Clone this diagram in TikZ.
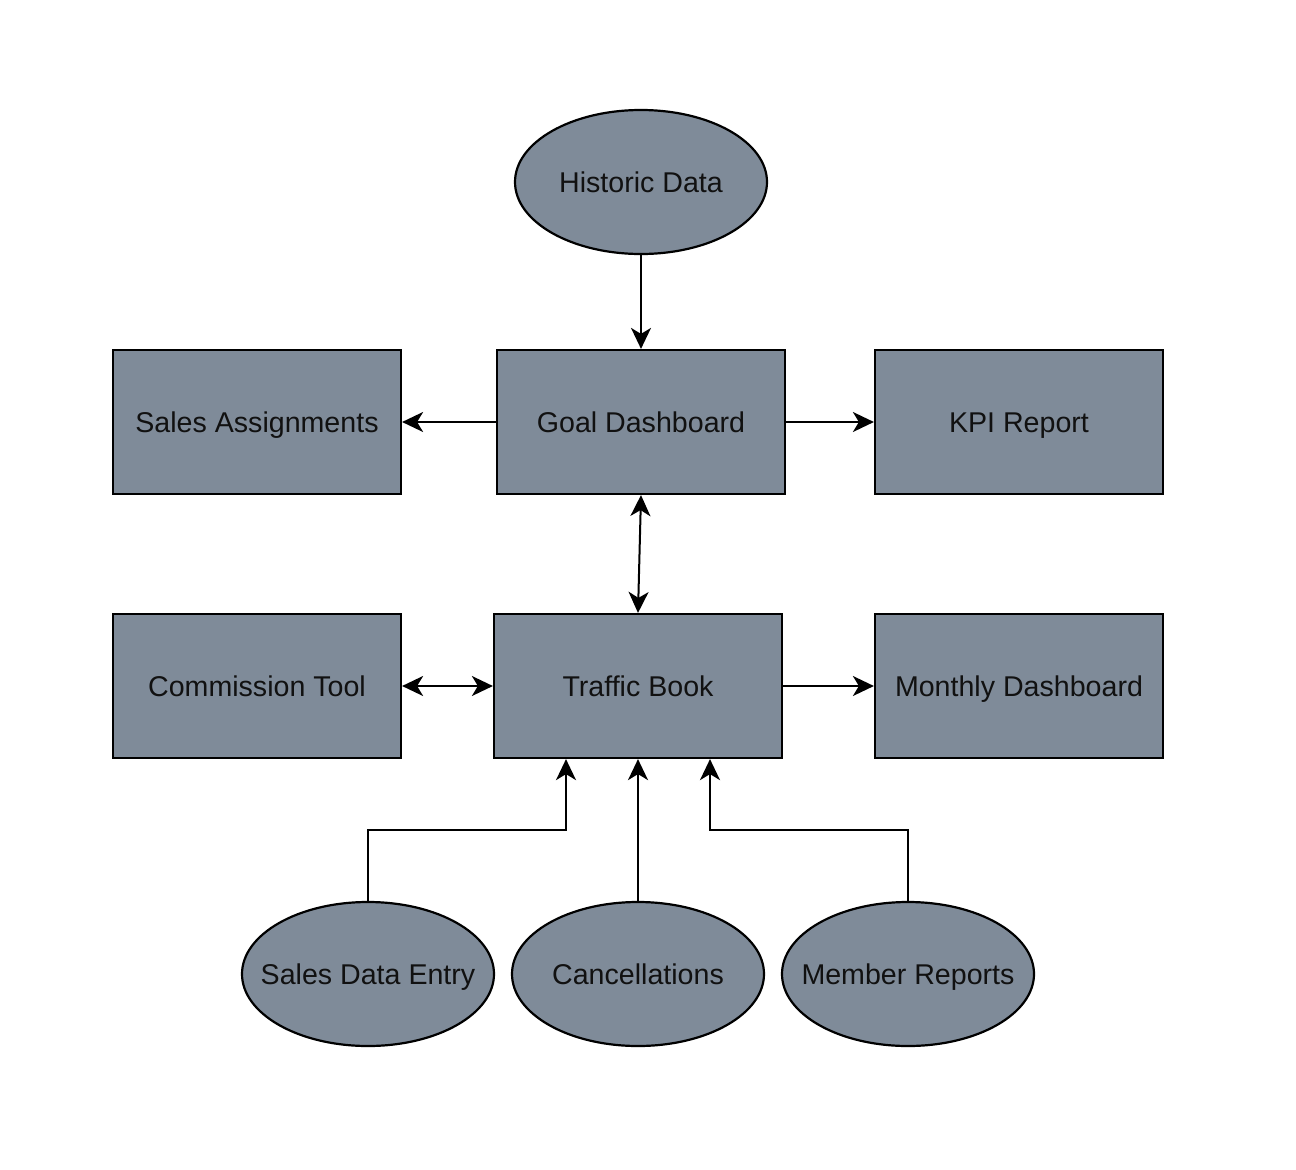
\documentclass[tikz,border=0pt]{standalone}
\usepackage{fontspec}
\setmainfont{Liberation Sans}
\usetikzlibrary{arrows.meta,shapes.geometric}
\definecolor{boxfill}{HTML}{7F8B99}
\definecolor{txt}{HTML}{111111}
\begin{document}
\begin{tikzpicture}[x=1pt,y=-1pt,
  lbl/.style={font=\fontsize{28.6}{32}\selectfont,text=txt,text height=23pt,text depth=3pt},
  box/.style={lbl,draw=black,line width=2.2pt,fill=boxfill,minimum width=288pt,minimum height=144pt,inner sep=0pt},
  oval/.style={lbl,ellipse,draw=black,line width=2.2pt,fill=boxfill,minimum width=252pt,minimum height=144pt,inner sep=0pt},
  conn/.style={line width=2pt,-{Stealth[length=21pt,width=20pt,inset=6pt]}},
  conn2/.style={line width=2pt,{Stealth[length=21pt,width=20pt,inset=6pt]}-{Stealth[length=21pt,width=20pt,inset=6pt]}}]
\useasboundingbox (0,0) rectangle (1296,1170);
\node[oval] (hist) at (641,182) {\makebox[0pt]{Historic Data}};
\node[box] (goal) at (641,422) {Goal Dashboard};
\node[box] (sales) at (257,422) {Sales Assignments};
\node[box] (kpi) at (1019,422) {KPI Report};
\node[box] (traffic) at (638,686) {Traffic Book};
\node[box] (comm) at (257,686) {Commission Tool};
\node[box] (monthly) at (1019,686) {Monthly Dashboard};
\node[oval] (sde) at (368,974) {\makebox[0pt]{Sales Data Entry}};
\node[oval] (canc) at (638,974) {\makebox[0pt]{Cancellations}};
\node[oval] (mem) at (908,974) {\makebox[0pt]{Member Reports}};
\coordinate (t1) at ([xshift=-72pt]traffic.south);
\coordinate (t3) at ([xshift=72pt]traffic.south);
\draw[conn] (hist.south) -- (goal.north);
\draw[conn] (goal.west) -- (sales.east);
\draw[conn] (goal.east) -- (kpi.west);
\draw[conn2] (goal.south) -- (traffic.north);
\draw[conn2] (comm.east) -- (traffic.west);
\draw[conn] (traffic.east) -- (monthly.west);
\draw[conn] (sde.north) |- (566,830) -- (t1);
\draw[conn] (canc.north) -- (traffic.south);
\draw[conn] (mem.north) |- (710,830) -- (t3);
\end{tikzpicture}
\end{document}
